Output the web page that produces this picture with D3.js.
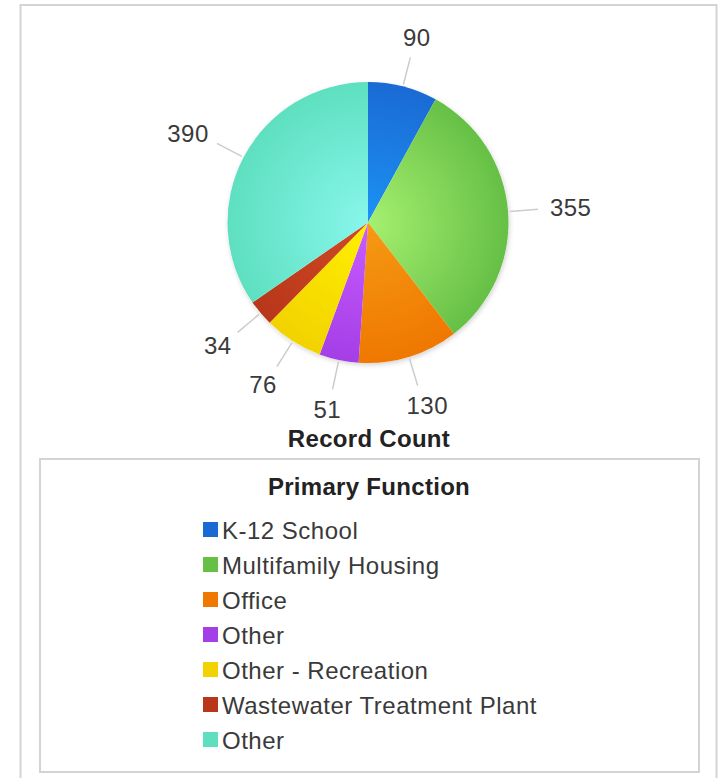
<!DOCTYPE html>
<html>
<head>
<meta charset="utf-8">
<script src="https://cdn.jsdelivr.net/npm/d3@7"></script>
<style>
  html, body { margin: 0; padding: 0; background: #fff; }
  svg { display: block; font-family: "Liberation Sans", Arial, sans-serif; }
  .val { fill: #3a3a3a; font-size: 24px; letter-spacing: 0.5px; }
  .leader { stroke: #ccc; stroke-width: 1.5; fill: none; }
  .axis-title { font-weight: bold; font-size: 24px; letter-spacing: 0.3px; fill: #222; }
  .lg-text { font-size: 24px; letter-spacing: 0.5px; fill: #3a3a3a; }
</style>
</head>
<body>
<svg id="chart" width="719" height="778"></svg>
<script>
// pie of record counts by primary function, starting at 12 o'clock, clockwise
const categories = ['K-12 School', 'Multifamily Housing', 'Office', 'Other', 'Other - Recreation', 'Wastewater Treatment Plant', 'Other'];
const counts = [90, 355, 130, 51, 76, 34, 390];
const outerColors = ['#1a6ad4', '#66c046', '#ef7800', '#a43ee6', '#f2d200', '#b8361a', '#5ee0c0'];
const innerColors = ['#1c92f4', '#a6f070', '#f69a14', '#c85cff', '#fff000', '#d04a24', '#88f6ec'];

const svg = d3.select('#chart');
const cx = 368, cy = 222.5, R = 140.5;

// outer frame + legend frame
svg.append('rect').attr('x', 20.5).attr('y', 5).attr('width', 696).attr('height', 790)
  .attr('fill', 'none').attr('stroke', '#d4d4d4').attr('stroke-width', 2);
svg.append('rect').attr('x', 40).attr('y', 459).attr('width', 659).attr('height', 313)
  .attr('fill', 'none').attr('stroke', '#d4d4d4').attr('stroke-width', 2);

const defs = svg.append('defs');
const shadow = defs.append('filter').attr('id', 'shadow').attr('x', '-20%').attr('y', '-20%').attr('width', '140%').attr('height', '140%');
shadow.append('feDropShadow').attr('dx', 1).attr('dy', 2).attr('stdDeviation', 2.5).attr('flood-color', '#000').attr('flood-opacity', 0.18);

// gradients live in the pie group's coordinates (centre at 0,0)
counts.forEach((_, i) => {
  const g = defs.append('radialGradient').attr('id', 'grad' + i)
    .attr('gradientUnits', 'userSpaceOnUse').attr('cx', 0).attr('cy', 0).attr('r', R);
  g.append('stop').attr('offset', '0%').attr('stop-color', innerColors[i]);
  g.append('stop').attr('offset', '100%').attr('stop-color', outerColors[i]);
});

const pie = d3.pie().sort(null).value((d) => d);
const arcs = pie(counts);
const arc = d3.arc().innerRadius(0).outerRadius(R);

const gPie = svg.append('g').attr('transform', `translate(${cx},${cy})`);
gPie.append('circle').attr('r', R).attr('fill', '#fff').attr('filter', 'url(#shadow)');
gPie.selectAll('path.slice').data(arcs).join('path')
  .attr('class', 'slice')
  .attr('d', arc)
  .attr('fill', (d, i) => `url(#grad${i})`);

// leader lines + value labels along each slice's mid angle
const mid = (d) => (d.startAngle + d.endAngle) / 2;
gPie.selectAll('line.leader').data(arcs).join('line')
  .attr('class', 'leader')
  .attr('x1', (d) => Math.sin(mid(d)) * (R + 2)).attr('y1', (d) => -Math.cos(mid(d)) * (R + 2))
  .attr('x2', (d) => Math.sin(mid(d)) * (R + 30)).attr('y2', (d) => -Math.cos(mid(d)) * (R + 30));

const labels = gPie.selectAll('text.val').data(arcs).join('text')
  .attr('class', 'val')
  .attr('text-anchor', 'middle')
  .text((d) => d.data);
labels.each(function (d) {
  const a = mid(d), r0 = R + 42;
  const w = this.getComputedTextLength();
  const x = Math.sin(a) * r0 + Math.sin(a) * w / 2;
  const y = -Math.cos(a) * r0 - Math.cos(a) * 9;
  d3.select(this).attr('x', x).attr('y', y + 8.5);
});

svg.append('text').attr('class', 'axis-title').attr('x', 369).attr('y', 447)
  .attr('text-anchor', 'middle').text('Record Count');

// legend
svg.append('text').attr('class', 'axis-title').attr('x', 369).attr('y', 495)
  .attr('text-anchor', 'middle').text('Primary Function');

const rowY = d3.scalePoint().domain(d3.range(categories.length)).range([530, 740]);
const lg = svg.append('g').selectAll('g').data(categories).join('g')
  .attr('transform', (d, i) => `translate(203,${rowY(i)})`);
lg.append('rect').attr('x', 0).attr('y', -8).attr('width', 15).attr('height', 15)
  .attr('fill', (d, i) => outerColors[i]);
lg.append('text').attr('class', 'lg-text').attr('x', 19).attr('y', 8.5).text((d) => d);
</script>
</body>
</html>
